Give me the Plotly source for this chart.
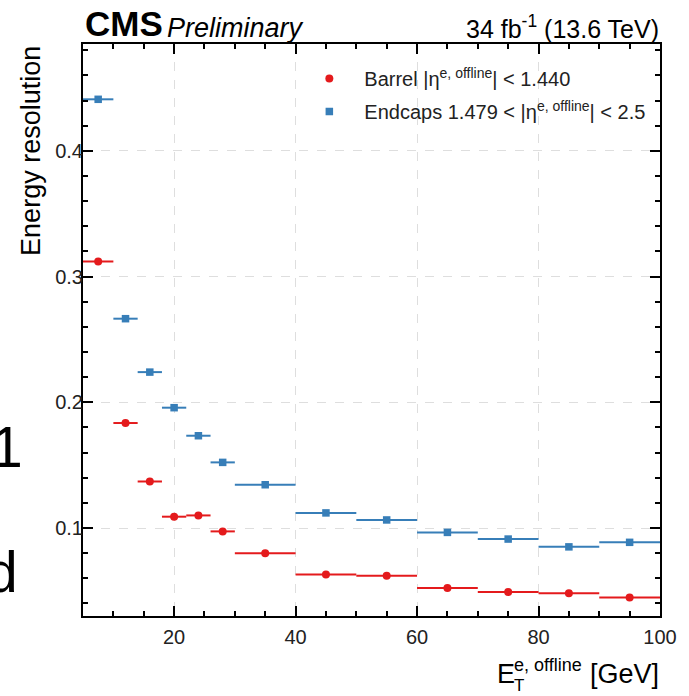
import plotly.graph_objects as go

# ---- data ----
bin_lo = [5, 10, 14, 18, 22, 26, 30, 40, 50, 60, 70, 80, 90]
bin_hi = [10, 14, 18, 22, 26, 30, 40, 50, 60, 70, 80, 90, 100]
barrel = [0.312, 0.1835, 0.137, 0.109, 0.110, 0.0973, 0.080, 0.063, 0.062, 0.0523, 0.049, 0.048, 0.0448]
endcap = [0.441, 0.2665, 0.224, 0.1957, 0.1734, 0.1522, 0.1344, 0.112, 0.1064, 0.0965, 0.0912, 0.085, 0.0886]
x_ticks = [20, 40, 60, 80, 100]
y_ticks = [0.1, 0.2, 0.3, 0.4]

centers = [(a + b) / 2 for a, b in zip(bin_lo, bin_hi)]
halfw = [(b - a) / 2 for a, b in zip(bin_lo, bin_hi)]

RED = "#e41a1c"
BLUE = "#377eb8"
FONT = "Liberation Sans"

W, H = 689, 696
L, R, T, B = 83, 670, 44, 616  # plot area in pixels


def px(xp):
    return (xp - L) / (R - L)


def py(yp):
    return (B - yp) / (B - T)


fig = go.Figure()
fig.add_trace(go.Scatter(
    x=centers, y=barrel, mode="markers",
    name="Barrel |η<sup>e, offline</sup>| &lt; 1.440",
    legendgroup="a",
    marker=dict(symbol="circle", size=8, color=RED),
    error_x=dict(type="data", array=halfw, symmetric=True, thickness=2, width=0, color=RED),
))
fig.add_trace(go.Scatter(
    x=centers, y=endcap, mode="markers",
    name="Endcaps 1.479 &lt; |η<sup>e, offline</sup>| &lt; 2.5",
    legendgroup="b",
    marker=dict(symbol="square", size=7.5, color=BLUE),
    error_x=dict(type="data", array=halfw, symmetric=True, thickness=2, width=0, color=BLUE),
))

axis_common = dict(
    showline=True, linecolor="black", linewidth=2, mirror="allticks",
    ticks="inside", ticklen=10, tickwidth=1.5, tickcolor="black",
    showgrid=True, gridcolor="#dedede", griddash="dash", gridwidth=1,
    zeroline=False, tickfont=dict(family=FONT, size=20, color="#222"),
)

fig.update_xaxes(range=[5, 100], tickvals=x_ticks, ticklabelstandoff=2,
                 minor=dict(dtick=5, tick0=0, ticks="inside", ticklen=5, tickwidth=1.5,
                            tickcolor="black", showgrid=False),
                 **axis_common)
fig.update_yaxes(range=[0.03, 0.485], tickvals=y_ticks, ticklabelstandoff=-6,
                 minor=dict(dtick=0.02, tick0=0, ticks="inside", ticklen=5, tickwidth=1.5,
                            tickcolor="black", showgrid=False),
                 **axis_common)

ann = []
ann.append(dict(text="<b>CMS</b>", x=px(83), y=py(45), xref="paper", yref="paper",
                xanchor="left", yanchor="bottom", showarrow=False,
                font=dict(family=FONT, size=35, color="black")))
ann.append(dict(text="<i>Preliminary</i>", x=px(166), y=py(45), xref="paper", yref="paper",
                xanchor="left", yanchor="bottom", showarrow=False,
                font=dict(family=FONT, size=27, color="black")))
ann.append(dict(text="34 fb<sup>-1</sup> (13.6 TeV)", x=px(671), y=py(45), xref="paper", yref="paper",
                xanchor="right", yanchor="bottom", showarrow=False,
                font=dict(family=FONT, size=25, color="black")))
ann.append(dict(text="Energy resolution", textangle=-90, x=px(30), y=1, xref="paper", yref="paper",
                xanchor="center", yanchor="top", showarrow=False,
                font=dict(family=FONT, size=27, color="black")))
# x-axis title E_T^{e, offline} [GeV]
ann.append(dict(text="E", x=px(502), y=py(691), xref="paper", yref="paper",
                xanchor="left", yanchor="bottom", showarrow=False,
                font=dict(family=FONT, size=27, color="black")))
ann.append(dict(text="e, offline", x=px(519), y=py(677), xref="paper", yref="paper",
                xanchor="left", yanchor="bottom", showarrow=False,
                font=dict(family=FONT, size=18, color="black")))
ann.append(dict(text="T", x=px(519), y=py(697), xref="paper", yref="paper",
                xanchor="left", yanchor="bottom", showarrow=False,
                font=dict(family=FONT, size=17, color="black")))
ann.append(dict(text="[GeV]", x=px(671), y=py(691), xref="paper", yref="paper",
                xanchor="right", yanchor="bottom", showarrow=False,
                font=dict(family=FONT, size=27, color="black")))
# stray cropped text on the left edge
ann.append(dict(text="1", x=px(24), y=py(447), xref="paper", yref="paper",
                xanchor="right", yanchor="middle", showarrow=False,
                font=dict(family=FONT, size=57, color="black")))
ann.append(dict(text="d", x=px(19), y=py(572), xref="paper", yref="paper",
                xanchor="right", yanchor="middle", showarrow=False,
                font=dict(family=FONT, size=57, color="black")))

fig.update_layout(
    width=W, height=H, autosize=False,
    margin=dict(l=L, r=W - R, t=T, b=H - B, pad=0),
    paper_bgcolor="white", plot_bgcolor="white",
    showlegend=True,
    legend=dict(x=px(298), y=py(59), xanchor="left", yanchor="top",
                bgcolor="rgba(0,0,0,0)", borderwidth=0, itemwidth=60,
                font=dict(family=FONT, size=20, color="#222"),
                tracegroupgap=4, traceorder="grouped"),
    annotations=ann,
)

fig.write_html("out.html")
